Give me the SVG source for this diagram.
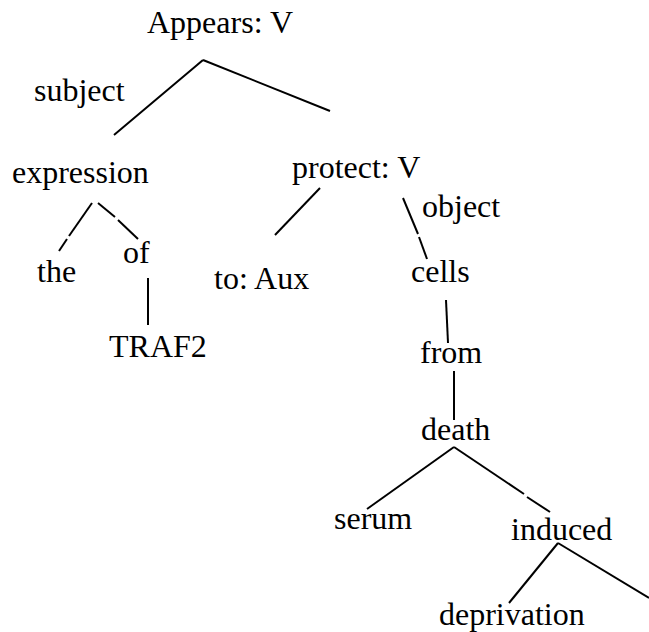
<svg xmlns="http://www.w3.org/2000/svg" width="649" height="632" viewBox="0 0 649 632">
<style>
text{font-family:"Liberation Serif","Times New Roman",serif;font-size:32px;fill:#000}
.e line{stroke:#000;stroke-width:2;stroke-linecap:butt}
</style>
<rect width="649" height="632" fill="#fff"/>
<g class="e" id="connectors">
<line x1="203" y1="60" x2="114" y2="135"/>
<line x1="203" y1="60" x2="330" y2="111"/>
<line x1="92" y1="203" x2="69" y2="236"/>
<line x1="67" y1="239" x2="59" y2="251"/>
<line x1="98" y1="203" x2="115" y2="217"/>
<line x1="118" y1="220" x2="138" y2="239"/>
<line x1="148" y1="278" x2="148" y2="325"/>
<line x1="320" y1="188" x2="275" y2="235"/>
<line x1="403" y1="198" x2="418" y2="234"/>
<line x1="419" y1="237" x2="427" y2="259"/>
<line x1="446" y1="300" x2="448" y2="343"/>
<line x1="454" y1="371" x2="454" y2="420"/>
<line x1="454" y1="447" x2="367" y2="509"/>
<line x1="454" y1="447" x2="524" y2="494"/>
<line x1="527" y1="497" x2="550" y2="512"/>
<line x1="558" y1="543" x2="509" y2="603"/>
<line x1="558" y1="543" x2="649" y2="598"/>
</g>
<g id="n-appears"><text x="147" y="33">Appears: V</text></g>
<g id="l-subject"><text x="34" y="101">subject</text></g>
<g id="n-expression"><text x="12" y="183">expression</text></g>
<g id="n-protect"><text x="292" y="178">protect: V</text></g>
<g id="l-object"><text x="422" y="217">object</text></g>
<g id="n-the"><text x="37" y="282">the</text></g>
<g id="n-of"><text x="123" y="263">of</text></g>
<g id="n-traf2"><text x="109" y="357">TRAF2</text></g>
<g id="n-to"><text x="214" y="289">to: Aux</text></g>
<g id="n-cells"><text x="411" y="282">cells</text></g>
<g id="n-from"><text x="420" y="363">from</text></g>
<g id="n-death"><text x="421" y="440">death</text></g>
<g id="n-serum"><text x="334" y="529">serum</text></g>
<g id="n-induced"><text x="511" y="540">induced</text></g>
<g id="n-deprivation"><text x="439" y="625">deprivation</text></g>
</svg>
